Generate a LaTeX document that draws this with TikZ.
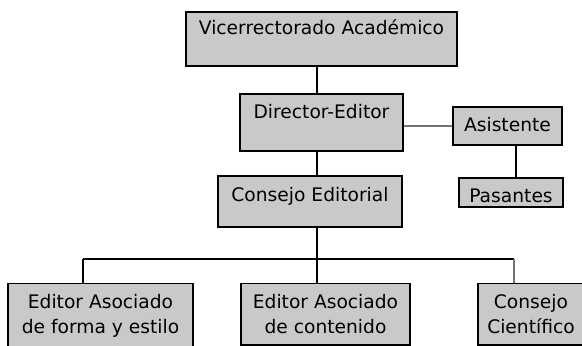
\documentclass[tikz,border=0pt]{standalone}
\usepackage{fontspec}
\setmainfont{DejaVu Sans}
\usepackage{tikz}

\begin{document}
\begin{tikzpicture}[x=0.75pt,y=0.75pt,yscale=-1,xscale=1,
    box/.style={draw=black, line width=1.1pt, fill=black!21, inner sep=0pt, anchor=base,
                font=\fontsize{14}{18.75}\selectfont},
    lowbox/.style={box, anchor=north, align=center, inner xsep=0pt, inner ysep=8.1pt},
    link/.style={draw=black, line width=0.9pt},
    sidelink/.style={draw=black!55, line width=0.9pt}]
    \useasboundingbox (0,0) rectangle (582,346);

    %Shape: Rectangle [top]
    \node [box, minimum width=203.25pt, text height=17.25pt, text depth=23.25pt] (vic) at (321.5,35) {Vicerrectorado Académico};
    %Shape: Rectangle
    \node [box, minimum width=122.25pt, text height=18pt, text depth=24.75pt] (dir) at (321.5,118) {Director-Editor};
    %Shape: Rectangle
    \node [box, minimum width=81.75pt, text height=18.75pt, text depth=9.75pt] (asi) at (507.5,132) {Asistente};
    %Shape: Rectangle
    \node [box, minimum width=78pt, text height=18pt, text depth=3.75pt] (pas) at (511,202) {Pasantes};
    %Shape: Rectangle
    \node [box, minimum width=138pt, text height=18.75pt, text depth=19.5pt] (cons) at (310,201) {Consejo Editorial};

    %Shape: Rectangle [bottom row]
    \node [lowbox, minimum width=138.75pt] (edforma) at (100.5,283) {Editor Asociado\\de forma y estilo};
    \node [lowbox, minimum width=126.75pt] (edcont) at (325.5,283) {Editor Asociado\\de contenido};
    \node [lowbox, minimum width=79.5pt] (cient) at (531,283) {Consejo\\Científico};

    % bus coordinates
    \coordinate (spine) at (317,259);
    \coordinate (tapA) at (83,259);
    \coordinate (tapC) at (514,259);

    %Straight Lines
    \draw [link] (vic.south -| spine) -- (dir.north -| spine);
    \draw [link] (dir.south -| spine) -- (cons.north -| spine);
    \draw [link] (cons.south -| spine) -- (spine);
    \draw [sidelink] (dir.east |- asi.west) -- (asi.west);
    \draw [link] ([xshift=6.4pt]asi.south) -- ([xshift=6.4pt]asi.south |- pas.north);

    %Straight Lines [bus]
    \draw [link] (tapA) -- (tapC);
    \draw [link] (tapA) -- (tapA |- edforma.north);
    \draw [link] (spine) -- (spine |- edcont.north);
    \draw [sidelink] (tapC) -- (tapC |- cient.north);

\end{tikzpicture}
\end{document}
